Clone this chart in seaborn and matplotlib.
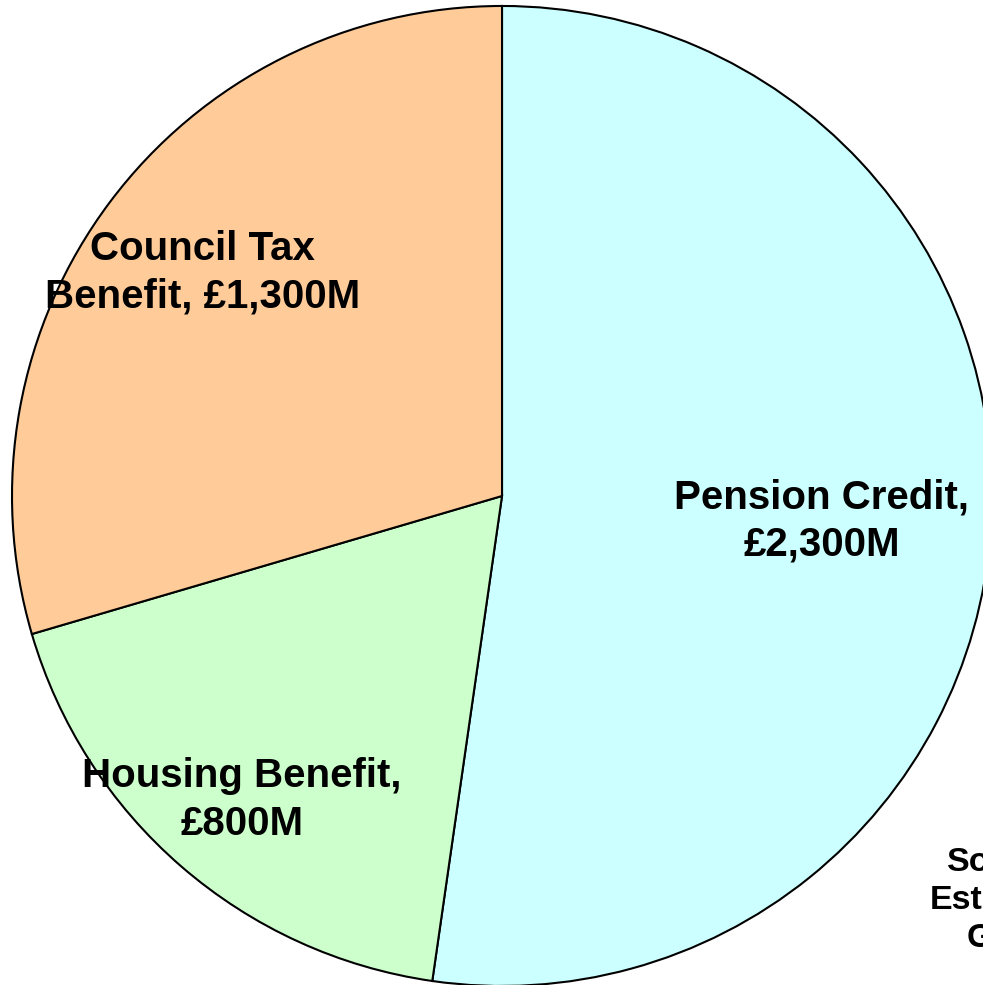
import matplotlib
matplotlib.use("Agg")
import seaborn as sns
import matplotlib.pyplot as plt

# Datos del gráfico
categorias = ["Pension Credit", "Housing Benefit", "Council Tax Benefit"]
valores = [2300, 800, 1300]
etiquetas = ["Pension Credit,\n£2,300M", "Housing Benefit,\n£800M", "Council Tax\nBenefit, £1,300M"]
colores = ["#CCFFFF", "#CCFFCC", "#FFCC99"]

sns.set_style("white")
plt.rcParams["font.family"] = ["Liberation Sans", "DejaVu Sans"]

fig = plt.figure(figsize=(9.83, 9.85), dpi=100)
ax = fig.add_axes([0, 0, 1, 1])

cunas, _ = ax.pie(valores, colors=colores, startangle=90, counterclock=False,
                  radius=1.0, wedgeprops=dict(edgecolor="black", linewidth=1.5))

# Posiciones de las etiquetas (en unidades del radio)
pos = [(0.653, -0.051), (-0.531, -0.620), (-0.612, 0.455)]
for (x, y), txt in zip(pos, etiquetas):
    ax.text(x, y, txt, ha="center", va="center", fontsize=29, fontweight="bold",
            color="black", linespacing=1.33)

# Nota de la fuente (cortada en el borde, como en el original)
ax.text(1.037, -0.826, "Source:\nEstimates\nGovt.", ha="center", va="center",
        fontsize=24.5, fontweight="bold", color="black", linespacing=1.3, clip_on=False)

ax.set_xlim(-1.0245, 0.9816)
ax.set_ylim(-0.998, 1.0122)
ax.set_aspect("auto")
ax.axis("off")

plt.savefig("out.png", dpi=100)
